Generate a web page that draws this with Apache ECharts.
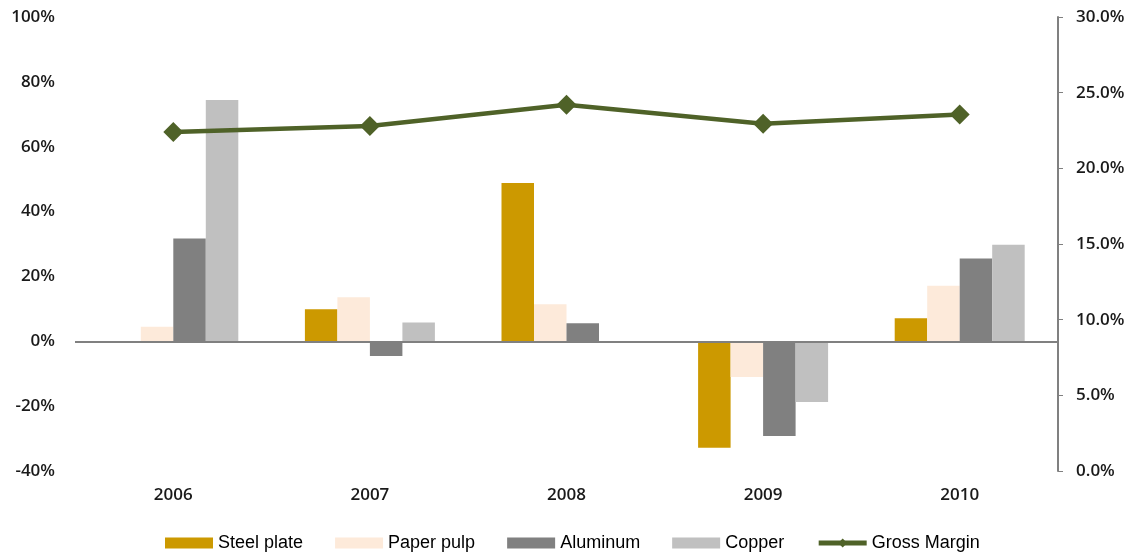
<!DOCTYPE html>
<html>
<head>
<meta charset="utf-8">
<script src="https://cdn.jsdelivr.net/npm/echarts@6/dist/echarts.min.js"></script>
<style>
  html, body { margin: 0; padding: 0; background: #fff; }
  #chart { width: 1139px; height: 554px; }
</style>
</head>
<body>
<div id="chart"></div>
<script>
// Year-over-year price changes of raw materials (%), with gross margin (%)
const years = ['2006', '2007', '2008', '2009', '2010'];
const steelPlate = [-0.5, 9.9, 48.8, -32.8, 7.1];
const paperPulp = [4.5, 13.6, 11.4, -11.0, 17.1];
const aluminum = [31.7, -4.5, 5.6, -29.2, 25.5];
const copper = [74.4, 5.8, 0, -18.7, 29.8];
const grossMargin = [22.4, 22.8, 24.2, 22.95, 23.55];

const axisFont = { fontFamily: 'Open Sans', fontWeight: 600, fontSize: 17, color: '#1a1a1a' };
const lineColor = '#4F6228';

function barSeries(name, data, color) {
  return {
    name: name,
    type: 'bar',
    data: data,
    yAxisIndex: 0,
    barWidth: 32.5,
    barGap: '0%',
    itemStyle: { color: color },
    emphasis: { disabled: true }
  };
}

const chart = echarts.init(document.getElementById('chart'));
const series = [
  barSeries('Steel plate', steelPlate, '#CC9900'),
  barSeries('Paper pulp', paperPulp, '#FDEADA'),
  barSeries('Aluminum', aluminum, '#808080'),
  barSeries('Copper', copper, '#C0C0C0'),
  {
    name: 'Gross Margin',
    type: 'line',
    data: grossMargin,
    yAxisIndex: 1,
    symbol: 'diamond',
    symbolSize: 20,
    lineStyle: { color: lineColor, width: 4.5 },
    itemStyle: { color: lineColor },
    z: 5
  }
];
// zero reference line across the plot
series[0].markLine = {
  silent: true,
  symbol: 'none',
  label: { show: false },
  lineStyle: { color: '#808080', width: 2, type: 'solid' },
  data: [{ yAxis: 0 }]
};

chart.setOption({
  animation: false,
  grid: { left: 75, right: 81, top: 17, bottom: 83 },
  legend: {
    top: 534,
    left: 165,
    padding: 0,
    itemWidth: 48,
    itemHeight: 11,
    itemGap: 32,
    textStyle: { fontFamily: 'Liberation Sans', fontSize: 18, color: '#000' },
    data: [
      { name: 'Steel plate', icon: 'rect' },
      { name: 'Paper pulp', icon: 'rect' },
      { name: 'Aluminum', icon: 'rect' },
      { name: 'Copper', icon: 'rect' },
      { name: 'Gross Margin', itemStyle: { color: lineColor }, lineStyle: { color: lineColor, width: 5 } }
    ]
  },
  xAxis: {
    type: 'category',
    data: years,
    axisLine: { show: false },
    axisTick: { show: false },
    axisLabel: Object.assign({ margin: 16 }, axisFont)
  },
  yAxis: [
    {
      type: 'value',
      min: -40,
      max: 100,
      interval: 20,
      axisLine: { show: false },
      axisTick: { show: false },
      splitLine: { show: false },
      axisLabel: Object.assign({ margin: 20, formatter: v => v + '%' }, axisFont)
    },
    {
      type: 'value',
      min: 0,
      max: 30,
      interval: 5,
      position: 'right',
      axisLine: { show: true, lineStyle: { color: '#808080', width: 2 } },
      axisTick: { show: true, length: 5, lineStyle: { color: '#808080', width: 1 } },
      splitLine: { show: false },
      axisLabel: Object.assign({ margin: 18, formatter: v => v.toFixed(1) + '%' }, axisFont)
    }
  ],
  series: series
});
</script>
</body>
</html>
